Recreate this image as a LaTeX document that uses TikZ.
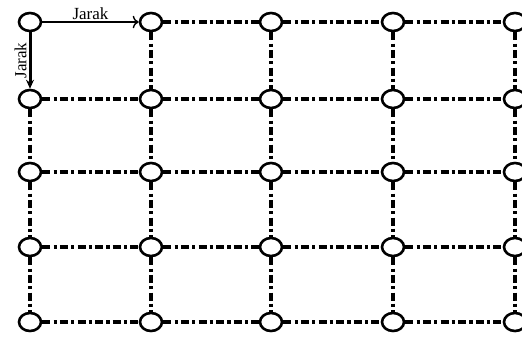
\documentclass[tikz,border=0pt]{standalone}
\usepackage{fontspec}
\setmainfont{Liberation Serif}
\usetikzlibrary{arrows.meta,shapes.geometric}
\tikzset{
  gridnode/.style={draw,ellipse,line width=1.3pt,minimum width=11pt,
                   minimum height=9pt,inner sep=0pt},
  gridline/.style={line width=1.6pt,dash pattern=on 4pt off 1.6pt on 1.6pt off 1.6pt},
  jarakh/.style={-{To[length=3pt]},line width=0.7pt},
  jarakv/.style={-{Stealth[length=4.5pt,width=4pt]},line width=1.5pt},
  jaraklabel/.style={font=\fontsize{8.5}{9}\selectfont,inner sep=1pt}
}
\begin{document}
\begin{tikzpicture}[x=0.5pt,y=-0.5pt]
    \useasboundingbox (0,0) rectangle (522,338);
    % grid points
    \foreach \c/\x in {1/30,2/151,3/271,4/393,5/515}
      \foreach \r/\y in {1/22,2/99,3/172,4/247,5/322}
        \node[gridnode] (n-\c-\r) at (\x,\y) {};

    % horizontal links
    \foreach \c/\d in {2/3,3/4,4/5}
      \draw[gridline] (n-\c-1) -- (n-\d-1);
    \foreach \c/\d in {1/2,2/3,3/4,4/5}
      \foreach \r in {2,...,5}
        \draw[gridline] (n-\c-\r) -- (n-\d-\r);

    % vertical links
    \foreach \r/\s in {2/3,3/4,4/5}
      \draw[gridline] (n-1-\r) -- (n-1-\s);
    \foreach \c in {2,...,5}
      \foreach \r/\s in {1/2,2/3,3/4,4/5}
        \draw[gridline] (n-\c-\r) -- (n-\c-\s);

    % spacing arrows
    \draw[jarakh] (n-1-1) -- node[jaraklabel,above] (jarak-h) {Jarak} (n-2-1);
    \draw[jarakv] (n-1-1) -- node[jaraklabel,rotate=90,anchor=south] (jarak-v) {Jarak} (n-1-2);
\end{tikzpicture}
\end{document}
